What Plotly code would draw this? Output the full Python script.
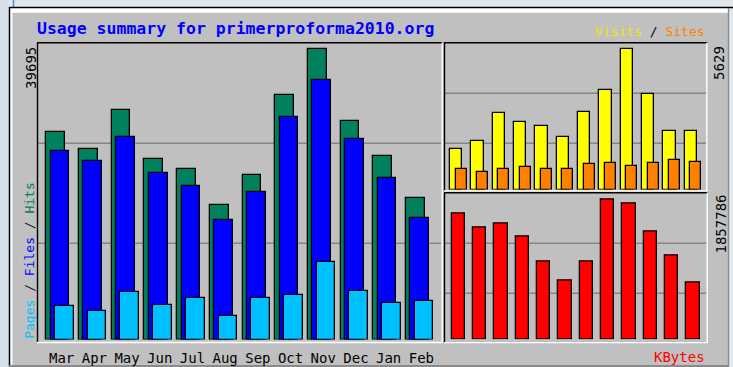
import plotly.graph_objects as go

# Monthly usage figures
months = ["Mar", "Apr", "May", "Jun", "Jul", "Aug", "Sep", "Oct", "Nov", "Dec", "Jan", "Feb"]
hits = [28395, 26030, 31300, 24660, 23300, 18380, 22480, 33410, 39695, 29900, 25075, 19380]
files = [25800, 24430, 27630, 22710, 20930, 16290, 20110, 30360, 35420, 27400, 22110, 16640]
pages = [4540, 3935, 6450, 4755, 5710, 3210, 5710, 6080, 10550, 6670, 4945, 5300]
visits = [1623, 1955, 3053, 2704, 2532, 2091, 3105, 3974, 5629, 3838, 2356, 2356]
sites = [821, 713, 821, 889, 821, 821, 1010, 1062, 942, 1062, 1170, 1114]
kbytes = [1668450, 1477770, 1536030, 1363890, 1027550, 781260, 1027550, 1857786,
          1800850, 1424800, 1116270, 758745]

W, H = 733, 367
MONO = "DejaVu Sans Mono"
BG = "#c0c0c0"
GRID = "#858585"


def fx(p):
    return p / W


def fy(p):
    return 1 - p / H


idx = list(range(len(months)))

# left panel geometry (pixels)
L_X0, L_X1, L_C0, L_PITCH = 38, 441, 60, 32.7
L_TOP, L_BASE, L_MAXPX = 43, 339.5, 290.5
# right panels geometry
R_X0, R_X1, R_C0, R_PITCH = 445, 706, 458, 21.34
V_TOP, V_BASE, V_MAXPX = 43, 189.5, 140.5
K_TOP, K_BASE, K_MAXPX = 193.5, 339.3, 140.3


def bar(y, color, off_px, w_px, pitch, xa, ya):
    return go.Bar(
        x=idx, y=y, offset=off_px / pitch, width=w_px / pitch,
        marker=dict(color=color, line=dict(color="#000000", width=1.3)),
        xaxis=xa, yaxis=ya, hoverinfo="y", showlegend=False,
    )


fig = go.Figure()
fig.add_trace(bar(hits, "#00805c", -13.7, 18.7, L_PITCH, "x", "y"))
fig.add_trace(bar(files, "#0000ff", -9.3, 18.7, L_PITCH, "x", "y"))
fig.add_trace(bar(pages, "#00c0ff", -5.0, 18.7, L_PITCH, "x", "y"))
fig.add_trace(bar(visits, "#ffff00", -8.0, 12.3, R_PITCH, "x2", "y2"))
fig.add_trace(bar(sites, "#ff8000", -2.3, 11.0, R_PITCH, "x2", "y2"))
fig.add_trace(bar(kbytes, "#ff0000", -6.3, 13.3, R_PITCH, "x3", "y3"))

hidden = dict(showgrid=False, zeroline=False, showline=False, showticklabels=False,
              fixedrange=True)

fig.update_layout(
    width=W, height=H, autosize=False,
    margin=dict(l=0, r=0, t=0, b=0, pad=0),
    paper_bgcolor=BG, plot_bgcolor="rgba(0,0,0,0)",
    barmode="overlay", bargap=0,
    xaxis=dict(domain=[fx(L_X0), fx(L_X1)],
               range=[(L_X0 - L_C0) / L_PITCH, (L_X1 - L_C0) / L_PITCH],
               tickmode="array", tickvals=[i + 0.05 for i in idx], ticktext=months,
               ticks="outside", ticklen=6, tickcolor="rgba(0,0,0,0)",
               tickfont=dict(family=MONO, size=14, color="#000000"),
               showgrid=False, zeroline=False, showline=False, fixedrange=True),
    yaxis=dict(domain=[fy(L_BASE), fy(L_TOP)],
               range=[0, max(hits) * (L_BASE - L_TOP) / L_MAXPX], **hidden),
    xaxis2=dict(domain=[fx(R_X0), fx(R_X1)], anchor="y2",
                range=[(R_X0 - R_C0) / R_PITCH, (R_X1 - R_C0) / R_PITCH], **hidden),
    yaxis2=dict(domain=[fy(V_BASE), fy(V_TOP)], anchor="x2",
                range=[0, max(visits) * (V_BASE - V_TOP) / V_MAXPX], **hidden),
    xaxis3=dict(domain=[fx(R_X0), fx(R_X1)], anchor="y3",
                range=[(R_X0 - R_C0) / R_PITCH, (R_X1 - R_C0) / R_PITCH], **hidden),
    yaxis3=dict(domain=[fy(K_BASE), fy(K_TOP)], anchor="x3",
                range=[0, max(kbytes) * (K_BASE - K_TOP) / K_MAXPX], **hidden),
)

shapes = []


def rect(x0, y0, x1, y1, color):
    shapes.append(dict(type="rect", xref="paper", yref="paper", layer="below",
                       x0=fx(x0), x1=fx(x1), y0=fy(y0), y1=fy(y1),
                       fillcolor=color, line=dict(width=0)))


def hline(y, x0, x1, color, w=1.4):
    shapes.append(dict(type="line", xref="paper", yref="paper", layer="below",
                       x0=fx(x0), x1=fx(x1), y0=fy(y), y1=fy(y),
                       line=dict(color=color, width=w)))


def vline(x, y0, y1, color, w=1.4):
    shapes.append(dict(type="line", xref="paper", yref="paper", layer="below",
                       x0=fx(x), x1=fx(x), y0=fy(y0), y1=fy(y1),
                       line=dict(color=color, width=w)))


# surrounding page and outer frame
rect(0, 0, W, 7, "#e3e8ed")
rect(0, 0, 9, H, "#d6e0ea")
rect(729, 0, W, H, "#e3e8ed")
vline(13.5, 0, 7, "#5b86cf", 1.5)
rect(10, 8, 728, 12.7, "#ffffff")
rect(10, 8, 12.5, 366, "#ffffff")
hline(7.5, 9, W, "#000000", 1.5)
vline(9.5, 7, H, "#000000", 1.5)
vline(728.5, 8, H, "#8a8a8a", 1.4)
hline(366, 9, 729, "#8a8a8a", 2)

# gridlines
for gy in (143.3, 243.3):
    hline(gy, L_X0, L_X1, GRID)
for gy in (93.3, 143.3):
    hline(gy, R_X0, R_X1, GRID)
for gy in (243.3, 293.3):
    hline(gy, R_X0, R_X1, GRID)

# inset panel borders: dark top/left, light bottom/right
hline(42.7, 37, 442.5, "#000000")
vline(37.5, 42.7, 342.5, "#000000")
vline(442.2, 42.7, 343, "#ffffff")
hline(342.5, 37, 442.5, "#ffffff")

hline(42.7, 444, 707.5, "#000000")
vline(444.5, 42.7, 191, "#000000")
vline(706.8, 42.7, 191, "#ffffff")
hline(190.9, 444, 707.5, "#ffffff")

hline(192.8, 444, 707.5, "#000000")
vline(444.5, 192.8, 342.5, "#000000")
vline(707.2, 192.8, 343, "#ffffff")
hline(342.6, 444, 707.5, "#ffffff")

fig.update_layout(shapes=shapes)


def note(text, x, y, size=14, color="#000000", angle=0, xanchor="center"):
    return dict(text=text, x=fx(x), y=fy(y), xref="paper", yref="paper",
                xanchor=xanchor, yanchor="middle", showarrow=False, textangle=angle,
                font=dict(family=MONO, size=size, color=color), borderpad=0)


fig.update_layout(annotations=[
    note("<b>Usage summary for primerproforma2010.org</b>", 35.5, 28.5, size=16.5,
         color="#0000ff", xanchor="left"),
    note(str(max(hits)), 30.4, 67.5, angle=-90),
    note('<span style="color:#00c0ff">Pages</span> / '
         '<span style="color:#0000ff">Files</span> / '
         '<span style="color:#00805c">Hits</span>', 29.3, 260.5, size=13, angle=-90),
    note('<span style="color:#e8e800">Visits</span> / '
         '<span style="color:#ff8000">Sites</span>', 706, 31.5, size=13, xanchor="right"),
    note(str(max(visits)), 719.5, 63.4, angle=-90),
    note(str(max(kbytes)), 720.5, 224, angle=-90),
    note("KBytes", 706, 357.4, color="#ff0000", xanchor="right"),
])

fig.write_html("out.html")
